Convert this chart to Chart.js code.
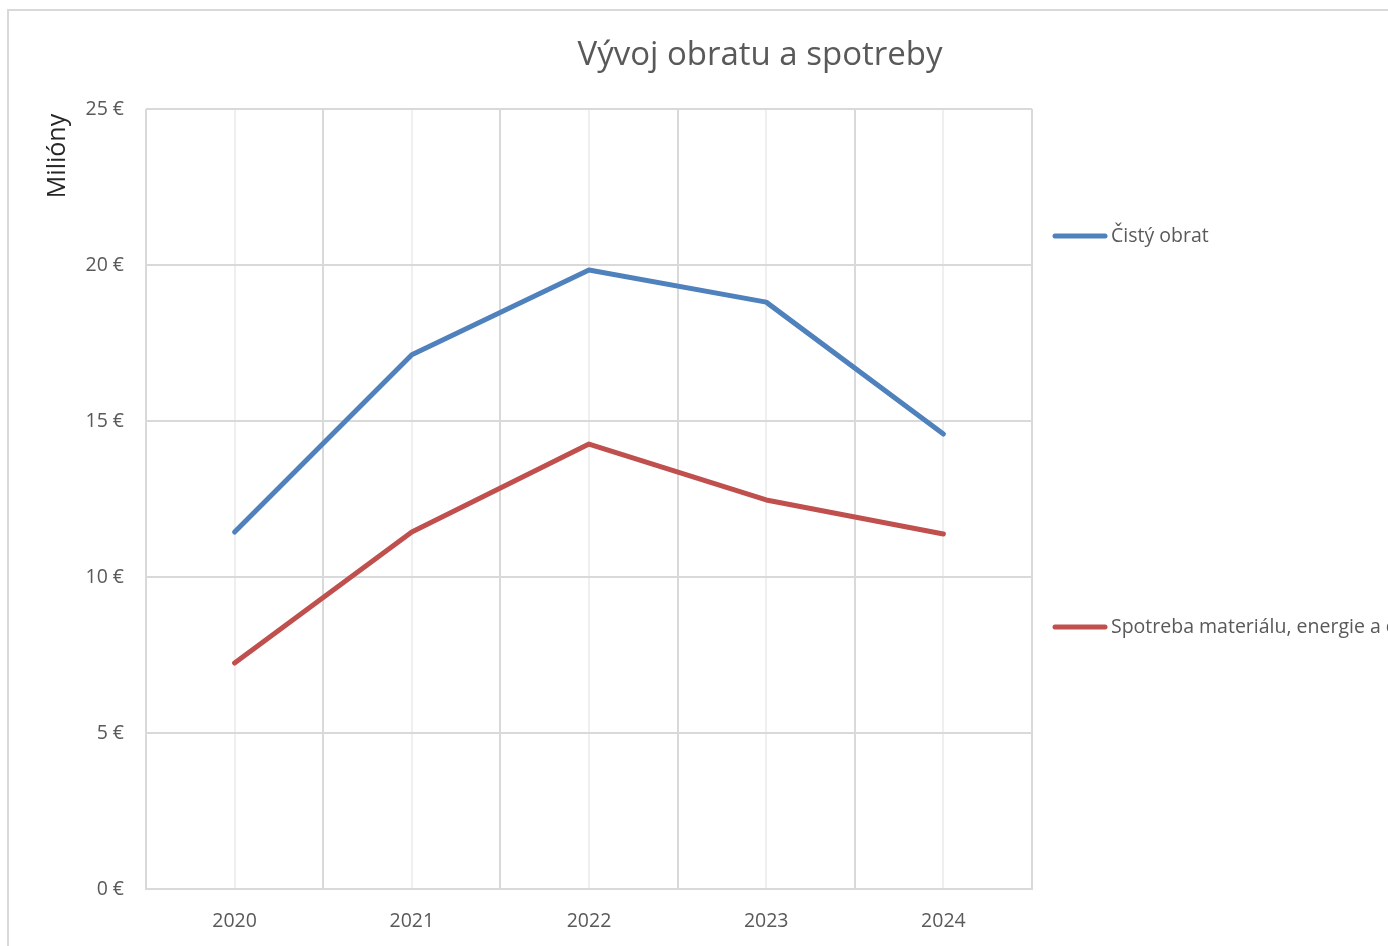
<!DOCTYPE html>
<html>
<head>
<meta charset="utf-8">
<script src="https://cdn.jsdelivr.net/npm/chart.js@4"></script>
<style>
  html, body { margin: 0; padding: 0; background: #fff; overflow: hidden; width: 1388px; height: 946px; }
  #frame { position: absolute; left: 7px; top: 9px; width: 1520px; height: 1000px; border: 2px solid #d9d9d9; box-sizing: border-box; }
  #wrap { position: absolute; left: 0; top: 0; width: 1520px; height: 946px; }
</style>
</head>
<body>
<div id="frame"></div>
<div id="wrap"><canvas id="c" width="1520" height="946"></canvas></div>
<script>
const chartTitle = 'Vývoj obratu a spotreby';
const yAxisTitle = 'Milióny';
const years = ['2020', '2021', '2022', '2023', '2024'];
const seriesNames = ['Čistý obrat', 'Spotreba materiálu, energie a ostatných neskladovateľných dodávok'];
const cistyObrat = [11.44, 17.12, 19.84, 18.81, 14.58];
const spotreba = [7.24, 11.44, 14.26, 12.47, 11.38];
const yTickValues = [0, 5, 10, 15, 20, 25];
const currency = '€';

const FONT = '"Open Sans", Lato, sans-serif';
const TEXT = '#595959';
const colors = ['#4F81BD', '#C0504D'];

const overlay = {
  id: 'overlay',
  afterDraw(chart) {
    const ctx = chart.ctx;
    const area = chart.chartArea;
    ctx.save();
    // title
    ctx.fillStyle = TEXT;
    ctx.font = '33px ' + FONT;
    ctx.textAlign = 'center';
    ctx.textBaseline = 'middle';
    ctx.fillText(chartTitle, 760, 56);
    // y axis title
    ctx.save();
    ctx.translate(58, 156);
    ctx.rotate(-Math.PI / 2);
    ctx.fillStyle = '#262626';
    ctx.font = '25px ' + FONT;
    ctx.fillText(yAxisTitle, 0, 0);
    ctx.restore();
    // legend
    const legendY = [236, 627];
    chart.data.datasets.forEach((ds, i) => {
      const y = legendY[i];
      ctx.strokeStyle = ds.borderColor;
      ctx.lineWidth = 5;
      ctx.lineCap = 'round';
      ctx.beginPath();
      ctx.moveTo(area.right + 23, y);
      ctx.lineTo(area.right + 73, y);
      ctx.stroke();
      ctx.fillStyle = TEXT;
      ctx.font = '19.5px ' + FONT;
      ctx.textAlign = 'left';
      ctx.textBaseline = 'middle';
      ctx.fillText(ds.label, area.right + 79, y);
    });
    ctx.restore();
  }
};

new Chart(document.getElementById('c'), {
  type: 'line',
  data: {
    labels: years,
    datasets: [
      { label: seriesNames[0], data: cistyObrat, borderColor: colors[0], backgroundColor: colors[0] },
      { label: seriesNames[1], data: spotreba, borderColor: colors[1], backgroundColor: colors[1] }
    ]
  },
  options: {
    responsive: false,
    animation: false,
    layout: { padding: { left: 0, top: 109, right: 488, bottom: 0 } },
    elements: {
      line: { borderWidth: 5, tension: 0, borderCapStyle: 'round', borderJoinStyle: 'round' },
      point: { radius: 0, hoverRadius: 0 }
    },
    plugins: { legend: { display: false }, title: { display: false }, tooltip: { enabled: false } },
    scales: {
      x2: {
        type: 'category',
        labels: years,
        position: 'bottom',
        offset: true,
        grid: { offset: false, color: '#efefef', lineWidth: 2, drawTicks: false },
        border: { display: false },
        ticks: { display: false },
        afterFit(s) { s.height = 0; }
      },
      x: {
        type: 'category',
        offset: true,
        grid: { offset: true, color: '#d9d9d9', lineWidth: 2, drawTicks: false },
        border: { display: true, color: '#d9d9d9', width: 2 },
        ticks: { padding: 21, color: TEXT, font: { family: FONT, size: 19.5 } },
        afterFit(s) { s.height = 57; }
      },
      y: {
        min: 0, max: 25,
        afterBuildTicks(s) { s.ticks = yTickValues.map(v => ({ value: v })); },
        grid: { color: '#d9d9d9', lineWidth: 2, drawTicks: false },
        border: { display: false },
        ticks: { padding: 22, color: TEXT, font: { family: FONT, size: 19.5 }, callback: v => v + ' ' + currency },
        afterFit(s) { s.width = 146; }
      }
    }
  },
  plugins: [overlay]
});
</script>
</body>
</html>
